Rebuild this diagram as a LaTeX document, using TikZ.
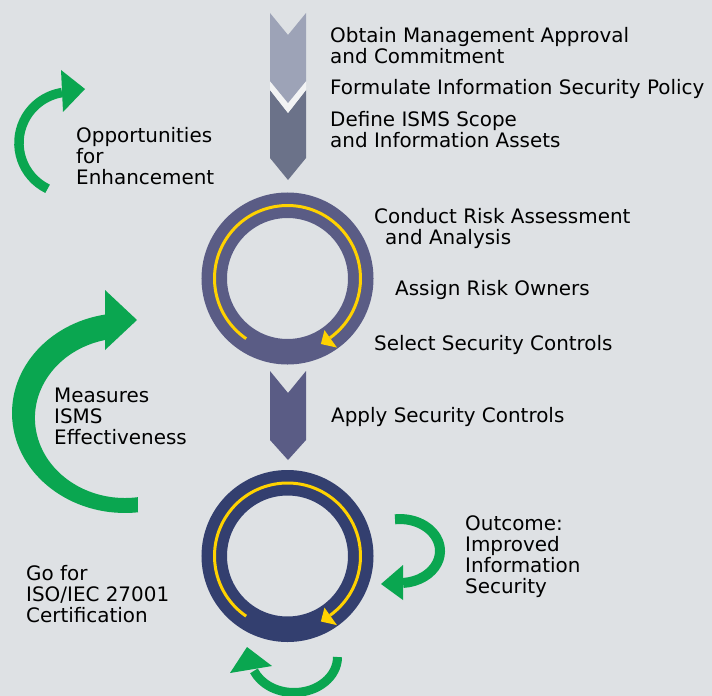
\documentclass[tikz,border=0pt]{standalone}
\usepackage{fontspec}
\setmainfont{DejaVu Sans}
\definecolor{bg}{RGB}{222,225,228}
\definecolor{chevA}{RGB}{157,163,183}
\definecolor{chevB}{RGB}{107,114,137}
\definecolor{ringA}{RGB}{90,92,133}
\definecolor{ringB}{RGB}{51,63,111}
\definecolor{gold}{RGB}{255,210,0}
\definecolor{leaf}{RGB}{10,166,80}
\begin{document}
\begin{tikzpicture}[x=1bp,y=-1bp,
  % multi-line labels are anchored at the baseline of their last line
  label/.style={anchor=base west, align=left, inner sep=0pt,
    font=\fontsize{20}{21}\selectfont, text=black},
  ringband/.style={line width=25.5bp},
  goldline/.style={draw=gold, line width=3bp},
  leafline/.style={draw=leaf, line width=9.5bp}]

% canvas
\fill[bg] (0,0) rectangle (712,696);
\path[use as bounding box] (0,0) rectangle (712,696);

% chevrons of the preparation phase
\fill[chevB] (270,90) -- (288,113) -- (306,90) -- (306,158) -- (288,180) -- (270,158) -- cycle;
\fill[white!60!bg] (270,81) -- (288,103) -- (306,81) -- (306,90) -- (288,113) -- (270,90) -- cycle;
\fill[chevA] (270,13) -- (288,35) -- (306,13) -- (306,81) -- (288,103) -- (270,81) -- cycle;
\fill[ringA] (270,371) -- (288,393) -- (306,371) -- (306,440) -- (288,460) -- (270,440) -- cycle;

% the two cycles, each with a gold clockwise arrow
\foreach \cy/\col in {278.5/ringA, 556/ringB}{
  \begin{scope}[shift={(287.5,\cy)}]
    \draw[\col, ringband] (0,0) circle[radius=73.25];
    \draw[goldline] (124.5:73) arc[start angle=124.5, end angle=414.4, radius=73];
    \fill[gold] (54.4:63.5) -- (54.4:85) -- (63:73.5) -- cycle;
  \end{scope}
}

% green feedback arrows
\draw[leafline] (47.6,188.8) arc[start angle=116, end angle=261, radius=51];
\fill[leaf] (61,70) -- (63,112) -- (85,89) -- cycle;

\fill[leaf] (138,512.3) arc[start angle=83.4, end angle=260.2, x radius=113, y radius=100]
  -- (105,340) arc[start angle=257.2, end angle=81.7, x radius=90, y radius=80] -- cycle;
\fill[leaf] (105,290) -- (105,350) -- (137,320) -- cycle;

\draw[leafline, line width=10bp] (395,519.3) arc[start angle=-97.2, end angle=85.7, x radius=40, y radius=32];
\fill[leaf] (403,565) -- (403,600) -- (381,584) -- cycle;

\draw[leafline, line width=9bp] (337.5,657) arc[start angle=0, end angle=157, x radius=43.5, y radius=35.5];
\fill[leaf] (230,673) -- (247,647) -- (272,666) -- cycle;

% labels
\node[label] (approval) at (330,63.7) {Obtain Management Approval\\and Commitment};
\node[label] (policy) at (330,95) {Formulate Information Security Policy};
\node[label] (scope) at (330,147.7) {Define ISMS Scope\\and Information Assets};
\node[label] (enhance) at (76,184) {Opportunities\\for\\Enhancement};
\node[label] (risk) at (374,244) {Conduct Risk Assessment\\\hspace*{11bp}and Analysis};
\node[label] (owners) at (395,295) {Assign Risk Owners};
\node[label] (select) at (374,350) {Select Security Controls};
\node[label] (apply) at (331,422) {Apply Security Controls};
\node[label] (measure) at (54,444) {Measures\\ISMS\\Effectiveness};
\node[label] (outcome) at (465,593) {Outcome:\\Improved\\Information\\Security};
\node[label] (certify) at (26,622) {Go for\\ISO/IEC 27001\\Certification};
\end{tikzpicture}
\end{document}
